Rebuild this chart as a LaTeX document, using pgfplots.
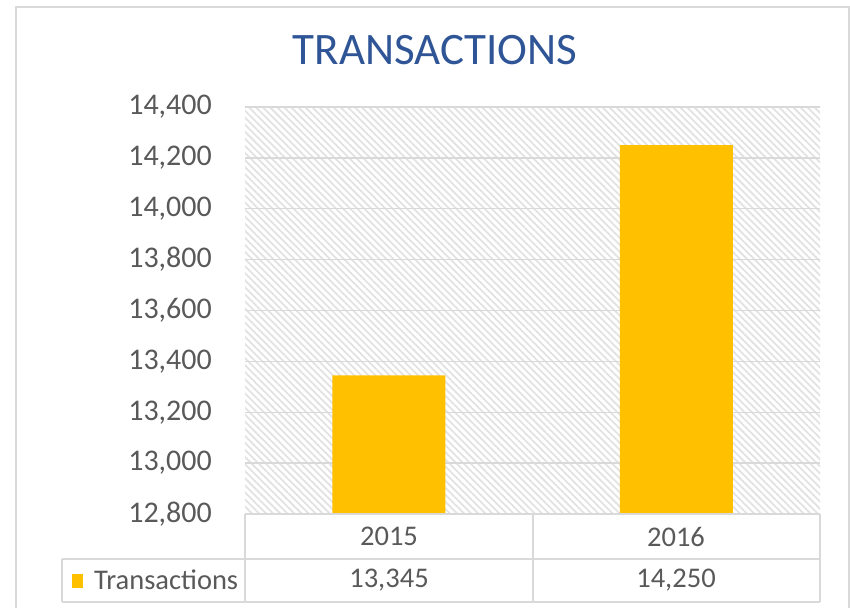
\documentclass[border=0pt]{standalone}
\usepackage{pgfplots}
\pgfplotsset{compat=1.18}
\usetikzlibrary{patterns.meta}
\usepackage{fontspec}
\setmainfont{Carlito}
\definecolor{barcol}{HTML}{FFC000}
\definecolor{titleblue}{HTML}{2F5597}
\definecolor{txt}{HTML}{595959}
\definecolor{gridc}{HTML}{D9D9D9}
\definecolor{hatch}{HTML}{E2E2E2}
\begin{document}
\begin{tikzpicture}[x=1pt,y=1pt]
\useasboundingbox (0,0) rectangle (850,608);
% outer frame
\draw[gridc, line width=2pt] (16,0) -- (16,600.5) -- (849,600.5) -- (849,0);
% title
\node[text=titleblue, font=\fontsize{45}{52}\selectfont] at (435,558) {TRANSACTIONS};
\begin{axis}[
  at={(245pt,94pt)}, anchor=south west,
  scale only axis, width=575pt, height=407pt,
  xmin=-0.5, xmax=1.5, ymin=12800, ymax=14400,
  ytick={12800,13000,13200,13400,13600,13800,14000,14200,14400},
  xtick=\empty,
  scaled y ticks=false,
  ymajorgrids,
  major grid style={color=gridc, line width=1.5pt},
  axis line style={draw=none},
  major tick length=0pt,
  tick style={draw=none},
  yticklabel style={anchor=east, inner sep=0pt, xshift=-33pt, text=txt,
    font=\fontsize{30}{36}\selectfont,
    /pgf/number format/1000 sep={,}, /pgf/number format/assume math mode=true},
  axis background/.style={pattern={Lines[angle=-45,distance=5pt,line width=1.8pt]}, pattern color=hatch},
  ybar, bar width=113pt,
  legend style={at={(axis description cs:-0.3009,-0.1634)}, anchor=west, draw=none, fill=none,
    inner sep=0pt, font=\fontsize{28.5}{32}\selectfont, text=txt,
    nodes={inner sep=0pt}},
  legend image code/.code={\fill[barcol] (0pt,-7pt) rectangle (11pt,7pt);},
]
\addplot[fill=barcol, draw=none] coordinates {(0,13345) (1,14250)};
\addlegendentry{\hspace*{11pt}Transactions}
\end{axis}
% data table
\begin{scope}[gridc, line width=1.5pt]
\draw (245,94) -- (820,94);
\draw (62,49) -- (820,49);
\draw (62,6) -- (820,6);
\draw (245,94) -- (245,6);
\draw (533,94) -- (533,6);
\draw (820,94) -- (820,6);
\draw (62,49) -- (62,6);
\end{scope}
\begin{scope}[every node/.style={text=txt, font=\fontsize{28.5}{32}\selectfont}]
\node at (389,71.5) {2015};
\node at (676,71.5) {2016};
\node at (389,27.5) {13,345};
\node at (676,27.5) {14,250};
\end{scope}
\end{tikzpicture}
\end{document}
